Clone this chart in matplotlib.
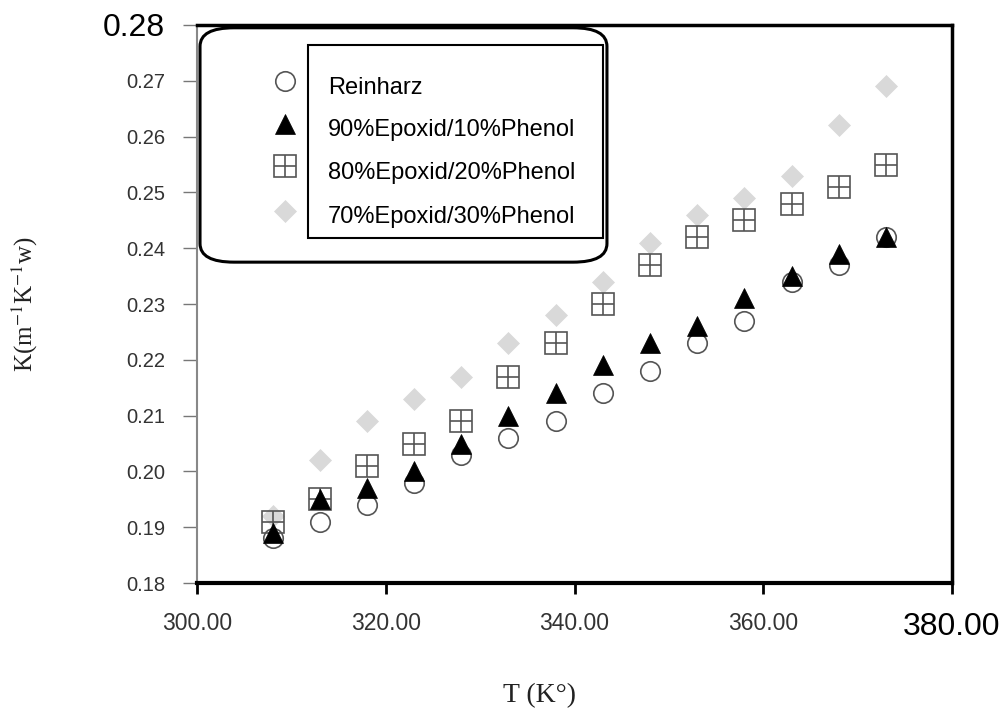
import matplotlib
matplotlib.use("Agg")
import matplotlib.pyplot as plt
from matplotlib.patches import FancyBboxPatch, Rectangle

# ---- data ----
temps = [308, 313, 318, 323, 328, 333, 338, 343, 348, 353, 358, 363, 368, 373]
reinharz = [0.188, 0.191, 0.194, 0.198, 0.203, 0.206, 0.209, 0.214, 0.218, 0.223, 0.227, 0.234, 0.237, 0.242]
ep90 = [0.189, 0.195, 0.197, 0.200, 0.205, 0.210, 0.214, 0.219, 0.223, 0.226, 0.231, 0.235, 0.239, 0.242]
ep80 = [0.191, 0.195, 0.201, 0.205, 0.209, 0.217, 0.223, 0.230, 0.237, 0.242, 0.245, 0.248, 0.251, 0.255]
ep70 = [0.192, 0.202, 0.209, 0.213, 0.217, 0.223, 0.228, 0.234, 0.241, 0.246, 0.249, 0.253, 0.262, 0.269]
series_names = ["Reinharz", "90%Epoxid/10%Phenol", "80%Epoxid/20%Phenol", "70%Epoxid/30%Phenol"]
x_ticks = [300, 320, 340, 360, 380]
x_ticklabels = ["300.00", "320.00", "340.00", "360.00", "380.00"]
y_ticks = [0.18, 0.19, 0.20, 0.21, 0.22, 0.23, 0.24, 0.25, 0.26, 0.27, 0.28]
y_ticklabels = ["0.18", "0.19", "0.20", "0.21", "0.22", "0.23", "0.24", "0.25", "0.26", "0.27", "0.28"]

plt.rcParams["font.family"] = ["Liberation Sans", "DejaVu Sans"]
plt.rcParams["mathtext.fontset"] = "stix"

fig = plt.figure(figsize=(10.07, 7.13), dpi=100)
ax = fig.add_axes([197 / 1007, 1 - 583 / 713, 755 / 1007, 558 / 713])

# marker styles
st_circle = dict(marker="o", ms=14, mfc="none", mec="#555555", mew=1.2, ls="none")
st_tri = dict(marker="^", ms=15, mfc="black", mec="black", mew=0.5, ls="none")
st_sq = dict(marker="s", ms=16, mfc="none", mec="#555555", mew=1.2, ls="none")
st_plus = dict(marker="+", ms=16, mec="#555555", mew=1.2, ls="none")
st_dia = dict(marker="D", ms=11.5, mfc="#d9d9d9", mec="#d9d9d9", mew=0.5, ls="none")

ax.plot(temps, ep70, zorder=2, **st_dia)
ax.plot(temps, ep80, zorder=3, **st_sq)
ax.plot(temps, ep80, zorder=3, **st_plus)
ax.plot(temps, reinharz, zorder=4, **st_circle)
ax.plot(temps, ep90, zorder=5, **st_tri)

ax.set_xlim(300, 380)
ax.set_ylim(0.18, 0.28)
ax.set_xticks(x_ticks)
ax.set_xticklabels(x_ticklabels)
ax.set_yticks(y_ticks)
ax.set_yticklabels(y_ticklabels)

ax.tick_params(axis="x", direction="out", length=8, width=2, color="black",
               labelsize=16.5, labelcolor="#333333", pad=13)
ax.tick_params(axis="y", direction="out", length=10, width=1, color="#777777",
               labelsize=14.5, labelcolor="#333333", pad=13)
xl = ax.get_xticklabels()
xl[-1].set_fontsize(23)
xl[-1].set_color("black")
yl = ax.get_yticklabels()
yl[-1].set_fontsize(23)
yl[-1].set_color("black")

for side, lw, col in [("left", 1.5, "#888888"), ("right", 2.5, "black"),
                      ("top", 2.5, "black"), ("bottom", 3, "black")]:
    ax.spines[side].set_linewidth(lw)
    ax.spines[side].set_color(col)

ax.set_ylabel(r"K(m$^{-1}$K$^{-1}$w)", family="Liberation Serif", fontsize=18, color="#222222")
ax.yaxis.set_label_coords(-0.208, 0.5)
ax.set_xlabel("T (K°)", family="Liberation Serif", fontsize=20, color="#222222")
ax.xaxis.set_label_coords(0.454, -0.179)
ax.xaxis.label.set_va("top")

# ---- legend (manual) ----
aspect = 558 / 755
padx = 0.035
pady = padx * aspect
outer = FancyBboxPatch((0.004 + padx, 0.575 + pady), 0.539 - 2 * padx, 0.42 - 2 * pady,
                       boxstyle="round,pad=0.035,rounding_size=0.045",
                       transform=ax.transAxes, fc="white", ec="black", lw=2.2, zorder=6,
                       mutation_aspect=aspect, clip_on=False)
ax.add_patch(outer)
inner = Rectangle((0.147, 0.618), 0.391, 0.346, transform=ax.transAxes,
                  fc="white", ec="black", lw=1.5, zorder=7)
ax.add_patch(inner)
text_clip = Rectangle((0.147, 0.638), 0.391, 0.326, transform=ax.transAxes,
                      fc="none", ec="none")
ax.add_patch(text_clip)

mk_x = 0.1166
mk_y = [0.899, 0.822, 0.747, 0.666]
txt_y = [0.887, 0.812, 0.735, 0.656]
styles = [[st_circle], [st_tri], [st_sq, st_plus], [st_dia]]
for sty, my in zip(styles, mk_y):
    for s in sty:
        ax.plot([mk_x], [my], transform=ax.transAxes, zorder=8, clip_on=False, **s)
for name, ty in zip(series_names, txt_y):
    t = ax.text(0.1735, ty, name, transform=ax.transAxes, fontsize=17,
                va="center", ha="left", color="black", zorder=9)
    t.set_clip_path(text_clip)

fig.savefig("out.png", dpi=100, facecolor="white")
